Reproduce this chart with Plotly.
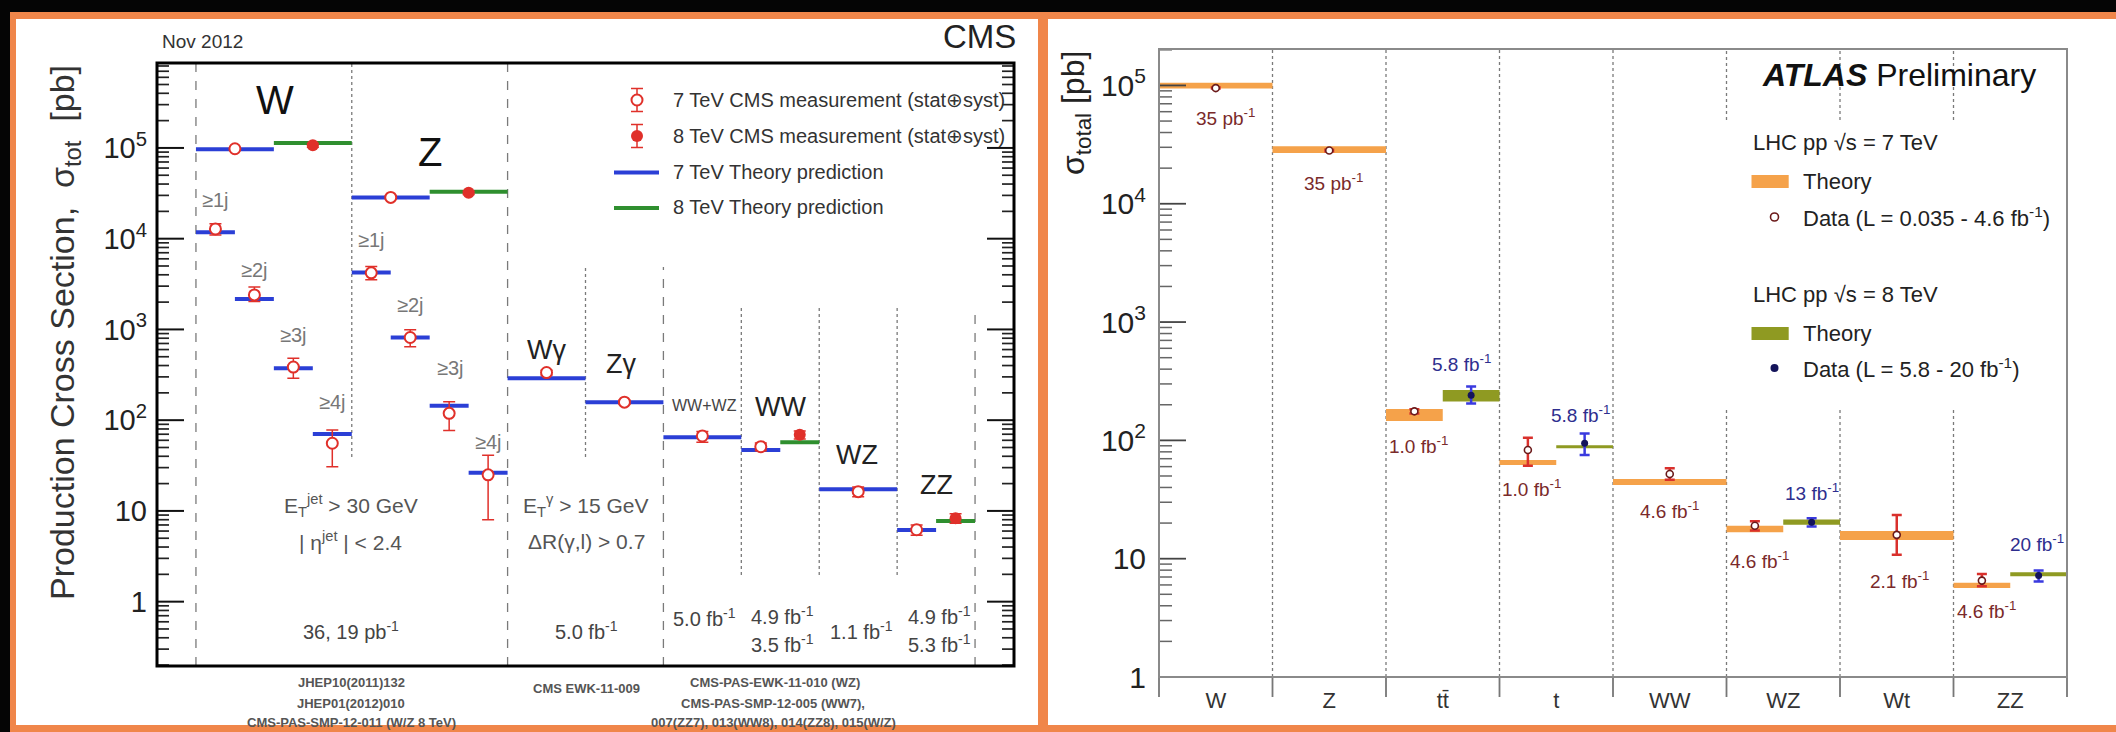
import math
import plotly.graph_objects as go

FIG_W, FIG_H = 2116, 732
FONT = "Liberation Sans, Arial, Helvetica, sans-serif"
NARROW = "Liberation Sans Narrow, Liberation Sans, Arial, sans-serif"

# ---------------- CMS: total production cross sections [pb] ----------------
cms7_names = ["W", "Z", "W≥1j", "W≥2j", "W≥3j", "W≥4j", "Z≥1j", "Z≥2j", "Z≥3j",
              "Z≥4j", "Wγ", "Zγ", "WW+WZ", "WW", "WZ", "ZZ"]
cms7_lo = [0, 2, 0, 0.5, 1, 1.5, 2, 2.5, 3, 3.5, 4, 5, 6, 7, 8, 9]
cms7_hi = [1, 3, 0.5, 1, 1.5, 2, 2.5, 3, 3.5, 4, 5, 6, 7, 7.5, 9, 9.5]
cms7_theory = [9.7e4, 2.85e4, 1.18e4, 2170, 374, 70.6, 4240, 815, 144, 26.4,
               290, 158, 65, 47, 17.3, 6.17]
cms7_meas = [9.8e4, 2.85e4, 1.28e4, 2400, 385, 55.7, 4200, 815, 119, 25,
             335, 158, 67, 51, 16.3, 6.2]
cms7_err_up = [3000, 1000, 1800, 530, 97, 22, 750, 175, 41, 16, 20, 8, 8, 5, 2, 0.8]
cms7_err_dn = [3000, 1000, 1800, 370, 95, 25, 680, 170, 42, 17, 20, 8, 10, 5, 2, 0.8]

cms8_names = ["W", "Z", "WW", "ZZ"]
cms8_lo = [1, 3, 7.5, 9.5]
cms8_hi = [2, 4, 8, 10]
cms8_theory = [1.13e5, 3.3e4, 57, 7.76]
cms8_meas = [1.07e5, 3.2e4, 69, 8.3]
cms8_err = [5000, 1300, 7, 1.0]

# ---------------- ATLAS: total production cross sections [pb] ----------------
atlas_cats = ["W", "Z", "tt\u0304", "t", "WW", "WZ", "Wt", "ZZ"]

atlas7_lo = [0, 1, 2, 3, 4, 5, 6, 7]
atlas7_hi = [1, 2, 2.5, 3.5, 5, 5.5, 7, 7.5]
atlas7_theory_min = [9.44e4, 2.69e4, 146, 62, 42, 16.7, 14.4, 5.64]
atlas7_theory_max = [1.055e5, 3.06e4, 184, 68.2, 47.1, 19.0, 17.1, 6.25]
atlas7_data = [9.5e4, 2.82e4, 176, 83, 52, 19.0, 15.9, 6.53]
atlas7_err_up = [1000, 400, 7, 22, 6, 1.7, 7.5, 0.9]
atlas7_err_dn = [1000, 400, 7, 22, 5.5, 1.7, 5.1, 0.67]

atlas8_lo = [2.5, 3.5, 5.5, 7.5]
atlas8_hi = [3, 4, 6, 8]
atlas8_theory_min = [213, 85.6, 19.4, 7.11]
atlas8_theory_max = [267, 91, 21.4, 7.69]
atlas8_data = [241, 94.4, 20.3, 7.2]
atlas8_err_up = [45, 20, 1.7, 0.74]
atlas8_err_dn = [36, 19, 1.6, 0.79]

atlas_lumi_labels = [
    ("35 pb<sup>-1</sup>", 7), ("35 pb<sup>-1</sup>", 7), ("1.0 fb<sup>-1</sup>", 7),
    ("5.8 fb<sup>-1</sup>", 8), ("1.0 fb<sup>-1</sup>", 7), ("5.8 fb<sup>-1</sup>", 8),
    ("4.6 fb<sup>-1</sup>", 7), ("4.6 fb<sup>-1</sup>", 7), ("13 fb<sup>-1</sup>", 8),
    ("2.1 fb<sup>-1</sup>", 7), ("4.6 fb<sup>-1</sup>", 7), ("20 fb<sup>-1</sup>", 8),
]
atlas_lumi_pos = [(1225, 117), (1333, 182), (1418, 445), (1461, 363), (1531, 488),
                  (1580, 414), (1669, 510), (1759, 560), (1812, 492), (1899, 580),
                  (1986, 610), (2037, 543)]

# ---------------- colours ----------------
ORANGE_FRAME = "#f0864a"
CMS_BLUE = "#2b3fd6"
CMS_GREEN = "#2f8f2f"
CMS_RED = "#e0302a"
AT_ORANGE = "#f5a24a"
AT_OLIVE = "#8f9a22"
AT_RED = "#d9302c"
AT_MAROON = "#6b1a1a"
AT_BLUE = "#3a3adf"
AT_NAVY = "#14145a"
LUMI7 = "#7a2a2a"
LUMI8 = "#2e2e8e"

# plot-area geometry in pixels
CMS_L, CMS_R, CMS_T, CMS_B = 157, 1014, 63, 666
AT_L, AT_R, AT_T, AT_B = 1159, 2067, 49, 677

CMS_YRANGE = [-0.709, 5.936]
AT_YRANGE = [0, 5.308]

decades = [1, 10, 100, 1e3, 1e4, 1e5]
decade_text = ["1", "10", "10<sup>2</sup>", "10<sup>3</sup>", "10<sup>4</sup>", "10<sup>5</sup>"]
sub_decades = [m * 10.0 ** e for e in range(-1, 6) for m in range(2, 10)]


def fx(px):
    return px / FIG_W


def fy(py):
    return 1 - py / FIG_H


def segments(lo, hi, vals):
    xs, ys = [], []
    for a, b, v in zip(lo, hi, vals):
        xs += [a, b, None]
        ys += [v, v, None]
    return xs, ys


def boxes(lo, hi, vmin, vmax):
    xs, ys = [], []
    for a, b, l, h in zip(lo, hi, vmin, vmax):
        xs += [a, b, b, a, a, None]
        ys += [l, l, h, h, l, None]
    return xs, ys


def centers(lo, hi):
    return [(a + b) / 2 for a, b in zip(lo, hi)]


def log_to_px(v, yrange, top, bottom):
    """Pixel row of value v on a log axis spanning yrange (log10 units)."""
    t = (math.log10(v) - yrange[0]) / (yrange[1] - yrange[0])
    return bottom - t * (bottom - top)


def tick_marks(values, yrange, top, bottom, x0, x1):
    xs, ys = [], []
    for v in values:
        lv = math.log10(v)
        if yrange[0] < lv < yrange[1]:
            p = log_to_px(v, yrange, top, bottom)
            xs += [x0, x1, None]
            ys += [p, p, None]
    return xs, ys


fig = go.Figure()

# ---- CMS theory predictions ----
x, y = segments(cms7_lo, cms7_hi, cms7_theory)
fig.add_trace(go.Scatter(x=x, y=y, mode="lines", line=dict(color=CMS_BLUE, width=4),
                         xaxis="x", yaxis="y", hoverinfo="skip"))
x, y = segments(cms8_lo, cms8_hi, cms8_theory)
fig.add_trace(go.Scatter(x=x, y=y, mode="lines", line=dict(color=CMS_GREEN, width=4),
                         xaxis="x", yaxis="y", hoverinfo="skip"))

# ---- CMS measurements ----
fig.add_trace(go.Scatter(
    x=centers(cms7_lo, cms7_hi), y=cms7_meas, mode="markers", text=cms7_names,
    marker=dict(symbol="circle", size=11, color="white", line=dict(color=CMS_RED, width=2)),
    error_y=dict(type="data", symmetric=False, array=cms7_err_up, arrayminus=cms7_err_dn,
                 color=CMS_RED, thickness=1.5, width=6),
    xaxis="x", yaxis="y"))
fig.add_trace(go.Scatter(
    x=centers(cms8_lo, cms8_hi), y=cms8_meas, mode="markers", text=cms8_names,
    marker=dict(symbol="circle", size=12, color=CMS_RED),
    error_y=dict(type="data", array=cms8_err, color=CMS_RED, thickness=1.5, width=6),
    xaxis="x", yaxis="y"))

# ---- ATLAS theory bands ----
x, y = boxes(atlas7_lo, atlas7_hi, atlas7_theory_min, atlas7_theory_max)
fig.add_trace(go.Scatter(x=x, y=y, mode="lines", fill="toself", fillcolor=AT_ORANGE,
                         line=dict(width=0, color=AT_ORANGE), xaxis="x2", yaxis="y2",
                         hoverinfo="skip"))
x, y = boxes(atlas8_lo, atlas8_hi, atlas8_theory_min, atlas8_theory_max)
fig.add_trace(go.Scatter(x=x, y=y, mode="lines", fill="toself", fillcolor=AT_OLIVE,
                         line=dict(width=0, color=AT_OLIVE), xaxis="x2", yaxis="y2",
                         hoverinfo="skip"))

# ---- ATLAS data ----
fig.add_trace(go.Scatter(
    x=centers(atlas7_lo, atlas7_hi), y=atlas7_data, mode="markers",
    marker=dict(symbol="circle", size=7, color="white", line=dict(color=AT_MAROON, width=1.6)),
    error_y=dict(type="data", symmetric=False, array=atlas7_err_up, arrayminus=atlas7_err_dn,
                 color=AT_RED, thickness=2.5, width=5),
    xaxis="x2", yaxis="y2"))
fig.add_trace(go.Scatter(
    x=centers(atlas8_lo, atlas8_hi), y=atlas8_data, mode="markers",
    marker=dict(symbol="circle", size=7, color=AT_NAVY),
    error_y=dict(type="data", symmetric=False, array=atlas8_err_up, arrayminus=atlas8_err_dn,
                 color=AT_BLUE, thickness=2.5, width=5),
    xaxis="x2", yaxis="y2"))

# ---- axis tick marks, drawn on the pixel-space overlay ----
tick_sets = [
    # CMS: inward ticks on both vertical sides
    (decades, CMS_YRANGE, CMS_T, CMS_B, CMS_L, CMS_L + 27, "#111", 2.0),
    (sub_decades, CMS_YRANGE, CMS_T, CMS_B, CMS_L, CMS_L + 12, "#222", 1.7),
    (decades, CMS_YRANGE, CMS_T, CMS_B, CMS_R - 27, CMS_R, "#111", 2.0),
    (sub_decades, CMS_YRANGE, CMS_T, CMS_B, CMS_R - 12, CMS_R, "#222", 1.7),
    # ATLAS: inward ticks on the left side only
    (decades, AT_YRANGE, AT_T, AT_B, AT_L, AT_L + 27, "#444", 1.8),
    (sub_decades, AT_YRANGE, AT_T, AT_B, AT_L, AT_L + 13, "#666", 1.5),
]
for vals, yr, top, bot, x0, x1, col, wid in tick_sets:
    tx, ty = tick_marks(vals, yr, top, bot, x0, x1)
    fig.add_trace(go.Scatter(x=tx, y=ty, mode="lines", line=dict(color=col, width=wid),
                             xaxis="x3", yaxis="y3", hoverinfo="skip"))

# ATLAS category boundary ticks below the axis
bx, by = [], []
for i in range(len(atlas_cats) + 1):
    px = AT_L + i * (AT_R - AT_L) / len(atlas_cats)
    bx += [px, px, None]
    by += [AT_B, AT_B + 20, None]
fig.add_trace(go.Scatter(x=bx, y=by, mode="lines", line=dict(color="#777", width=1.8),
                         xaxis="x3", yaxis="y3", hoverinfo="skip"))

# ---- legend symbols, drawn on the pixel-space overlay ----
fig.add_trace(go.Scatter(
    x=[637], y=[100], mode="markers",
    marker=dict(symbol="circle", size=11, color="white", line=dict(color=CMS_RED, width=2)),
    error_y=dict(type="data", array=[11.5], color=CMS_RED, thickness=1.5, width=6),
    xaxis="x3", yaxis="y3", hoverinfo="skip"))
fig.add_trace(go.Scatter(
    x=[637], y=[136], mode="markers", marker=dict(symbol="circle", size=12, color=CMS_RED),
    error_y=dict(type="data", array=[11.5], color=CMS_RED, thickness=1.5, width=6),
    xaxis="x3", yaxis="y3", hoverinfo="skip"))
fig.add_trace(go.Scatter(x=[614, 659], y=[172.5, 172.5], mode="lines",
                         line=dict(color=CMS_BLUE, width=4), xaxis="x3", yaxis="y3",
                         hoverinfo="skip"))
fig.add_trace(go.Scatter(x=[614, 659], y=[208, 208], mode="lines",
                         line=dict(color=CMS_GREEN, width=4), xaxis="x3", yaxis="y3",
                         hoverinfo="skip"))
fig.add_trace(go.Scatter(
    x=[1774.5], y=[217], mode="markers",
    marker=dict(symbol="circle", size=8, color="white", line=dict(color=AT_MAROON, width=1.6)),
    xaxis="x3", yaxis="y3", hoverinfo="skip"))
fig.add_trace(go.Scatter(x=[1774.5], y=[368], mode="markers",
                         marker=dict(symbol="circle", size=8, color=AT_NAVY),
                         xaxis="x3", yaxis="y3", hoverinfo="skip"))

# ---------------- shapes ----------------
shapes = [
    # black slide with two orange-framed white panels
    dict(type="rect", xref="paper", yref="paper", layer="below",
         x0=fx(10), x1=fx(FIG_W + 5), y0=fy(FIG_H + 5), y1=fy(12),
         fillcolor=ORANGE_FRAME, line=dict(width=0)),
    dict(type="rect", xref="paper", yref="paper", layer="below",
         x0=fx(16), x1=fx(1038), y0=fy(725), y1=fy(19),
         fillcolor="white", line=dict(width=0)),
    dict(type="rect", xref="paper", yref="paper", layer="below",
         x0=fx(1048), x1=fx(FIG_W + 5), y0=fy(725), y1=fy(19),
         fillcolor="white", line=dict(width=0)),
    # plot frames
    dict(type="rect", xref="x domain", yref="y domain", x0=0, x1=1, y0=0, y1=1,
         line=dict(color="black", width=3), fillcolor="rgba(0,0,0,0)"),
    dict(type="rect", xref="x2 domain", yref="y2 domain", x0=0, x1=1, y0=0, y1=1,
         line=dict(color="#8a8a8a", width=2), fillcolor="rgba(0,0,0,0)"),
    # ATLAS legend colour boxes
    dict(type="rect", xref="x3", yref="y3", x0=1751.5, x1=1788.7, y0=175, y1=188,
         fillcolor=AT_ORANGE, line=dict(width=0)),
    dict(type="rect", xref="x3", yref="y3", x0=1751.5, x1=1788.7, y0=327, y1=340,
         fillcolor=AT_OLIVE, line=dict(width=0)),
]


def cms_frac(py):
    return (CMS_B - py) / (CMS_B - CMS_T)


def at_frac(py):
    return (AT_B - py) / (AT_B - AT_T)


# CMS separators: (x, dash, top px, bottom px)
cms_separators = [(0, "dash", CMS_T, CMS_B), (2, "dot", CMS_T, 457), (4, "dash", CMS_T, CMS_B),
                  (5, "dot", 267, 457), (6, "dash", 267, CMS_B), (7, "dot", 307, 575),
                  (8, "dot", 307, 575), (9, "dot", 307, 575), (10, "dash", 310, CMS_B)]
for xs, dash, top, bot in cms_separators:
    shapes.append(dict(type="line", xref="x", yref="y domain", x0=xs, x1=xs,
                       y0=cms_frac(bot), y1=cms_frac(top), layer="below",
                       line=dict(color="#7a7a7a", width=1.3, dash=dash)))

# ATLAS category separators (some interrupted by the legend)
for xs in [1, 2, 3, 4]:
    shapes.append(dict(type="line", xref="x2", yref="y2 domain", x0=xs, x1=xs, y0=0, y1=1,
                       layer="below", line=dict(color="#7a7a7a", width=1.3, dash="dot")))
for xs in [5, 6, 7]:
    for top, bot in [(AT_T, 120), (407, AT_B)]:
        shapes.append(dict(type="line", xref="x2", yref="y2 domain", x0=xs, x1=xs,
                           y0=at_frac(bot), y1=at_frac(top), layer="below",
                           line=dict(color="#7a7a7a", width=1.3, dash="dot")))

# ---------------- text ----------------
annotations = []


def label(text, px, py, size, color="#222", xanchor="center", family=FONT, angle=0):
    annotations.append(dict(text=text, x=fx(px), y=fy(py), xref="paper", yref="paper",
                            showarrow=False, xanchor=xanchor, yanchor="middle",
                            textangle=angle, font=dict(size=size, color=color, family=family)))


# CMS panel
label("Nov 2012", 160, 42, 19, "#333", xanchor="left")
label("CMS", 1018, 36, 33, "#222", xanchor="right")
label("Production Cross Section,\u00a0\u00a0σ<sub>tot</sub>\u00a0\u00a0[pb]", 64, 333, 34,
      "#333", angle=-90)
label("W", 275, 100, 40, "#111")
label("Z", 430, 152, 40, "#111")
for txt, px, py in [("≥1j", 215, 200), ("≥2j", 254, 270), ("≥3j", 293, 335), ("≥4j", 332, 402),
                    ("≥1j", 371, 240), ("≥2j", 410, 305), ("≥3j", 450, 368), ("≥4j", 488, 442)]:
    label(txt, px, py, 20, "#777")
label("Wγ", 546, 350, 27, "#222")
label("Zγ", 621, 364, 27, "#222")
label("WW+WZ", 704, 405, 16, "#444")
label("WW", 780, 407, 27, "#222")
label("WZ", 857, 455, 27, "#222")
label("ZZ", 936, 485, 27, "#222")
label("E<sub>T</sub><sup>jet</sup> &gt; 30 GeV", 351, 505, 21, "#555")
label("| η<sup>jet</sup> | &lt; 2.4", 350, 541, 21, "#555")
label("36, 19 pb<sup>-1</sup>", 351, 630, 20, "#444")
label("E<sub>T</sub><sup>γ</sup> &gt; 15 GeV", 586, 505, 21, "#555")
label("ΔR(γ,l) &gt; 0.7", 586, 541, 21, "#555")
label("5.0 fb<sup>-1</sup>", 586, 630, 20, "#444")
label("5.0 fb<sup>-1</sup>", 704, 617, 20, "#444")
label("4.9 fb<sup>-1</sup>", 782, 615, 20, "#444")
label("3.5 fb<sup>-1</sup>", 782, 643, 20, "#444")
label("1.1 fb<sup>-1</sup>", 861, 630, 20, "#444")
label("4.9 fb<sup>-1</sup>", 939, 615, 20, "#444")
label("5.3 fb<sup>-1</sup>", 939, 643, 20, "#444")
for txt, px, py in [("JHEP10(2011)132", 351, 682), ("JHEP01(2012)010", 351, 703),
                    ("CMS-PAS-SMP-12-011 (W/Z 8 TeV)", 351, 722),
                    ("CMS EWK-11-009", 586, 688),
                    ("CMS-PAS-EWK-11-010 (WZ)", 775, 682),
                    ("CMS-PAS-SMP-12-005 (WW7),", 773, 703),
                    ("007(ZZ7), 013(WW8), 014(ZZ8), 015(W/Z)", 773, 722)]:
    label("<b>" + txt + "</b>", px, py, 13, "#555", family=NARROW)
for txt, py in [("7 TeV CMS measurement (stat⊕syst)", 100),
                ("8 TeV CMS measurement (stat⊕syst)", 136),
                ("7 TeV Theory prediction", 172),
                ("8 TeV Theory prediction", 207)]:
    label(txt, 671, py, 20, "#333", xanchor="left")

# ATLAS panel
label("σ<sub>total</sub> [pb]", 1075, 113, 32, "#222", angle=-90)
label("<b><i>ATLAS</i></b> Preliminary", 1760, 75, 32, "#111", xanchor="left")
label("LHC pp √s = 7 TeV", 1751, 143, 22, "#222", xanchor="left")
label("Theory", 1801, 181, 22, "#222", xanchor="left")
label("Data (L = 0.035 - 4.6 fb<sup>-1</sup>)", 1801, 217, 22, "#222", xanchor="left")
label("LHC pp √s = 8 TeV", 1751, 295, 22, "#222", xanchor="left")
label("Theory", 1801, 333, 22, "#222", xanchor="left")
label("Data (L = 5.8 - 20 fb<sup>-1</sup>)", 1801, 368, 22, "#222", xanchor="left")
for (txt, energy), (px, py) in zip(atlas_lumi_labels, atlas_lumi_pos):
    label(txt, px, py, 19, LUMI7 if energy == 7 else LUMI8)

# ---------------- axes ----------------
fig.update_layout(
    template="none",
    width=FIG_W, height=FIG_H, autosize=False,
    margin=dict(l=0, r=0, t=0, b=0, pad=0, autoexpand=False),
    paper_bgcolor="#050505", plot_bgcolor="rgba(0,0,0,0)",
    showlegend=False, shapes=shapes, annotations=annotations,
    font=dict(family=FONT),
    # CMS panel
    xaxis=dict(domain=[fx(CMS_L), fx(CMS_R)], range=[-0.5, 10.5], showgrid=False,
               zeroline=False, showticklabels=False, ticks="", showline=False,
               anchor="y", automargin=False),
    yaxis=dict(domain=[fy(CMS_B), fy(CMS_T)], type="log", range=CMS_YRANGE,
               tickmode="array", tickvals=decades, ticktext=decade_text, ticks="",
               showline=False, showgrid=False, zeroline=False, ticklabelstandoff=9,
               automargin=False, tickfont=dict(size=29, color="#222", family=FONT),
               anchor="x"),
    # ATLAS panel
    xaxis2=dict(domain=[fx(AT_L), fx(AT_R)], range=[0, 8], showgrid=False, zeroline=False,
                tickmode="array", tickvals=[i + 0.5 for i in range(len(atlas_cats))],
                ticktext=atlas_cats, ticks="", automargin=False, showline=False,
                tickfont=dict(size=22, color="#333", family=FONT), ticklabelstandoff=8,
                anchor="y2"),
    yaxis2=dict(domain=[fy(AT_B), fy(AT_T)], type="log", range=AT_YRANGE,
                tickmode="array", tickvals=decades, ticktext=decade_text, ticks="",
                showline=False, showgrid=False, zeroline=False, ticklabelstandoff=12,
                automargin=False, tickfont=dict(size=30, color="#222", family=FONT),
                anchor="x2"),
    # pixel-space overlay for legend symbols and tick marks
    xaxis3=dict(domain=[0, 1], range=[0, FIG_W], visible=False, anchor="y3",
                automargin=False),
    yaxis3=dict(domain=[0, 1], range=[FIG_H, 0], visible=False, anchor="x3",
                automargin=False),
)

fig.write_html("out.html")
